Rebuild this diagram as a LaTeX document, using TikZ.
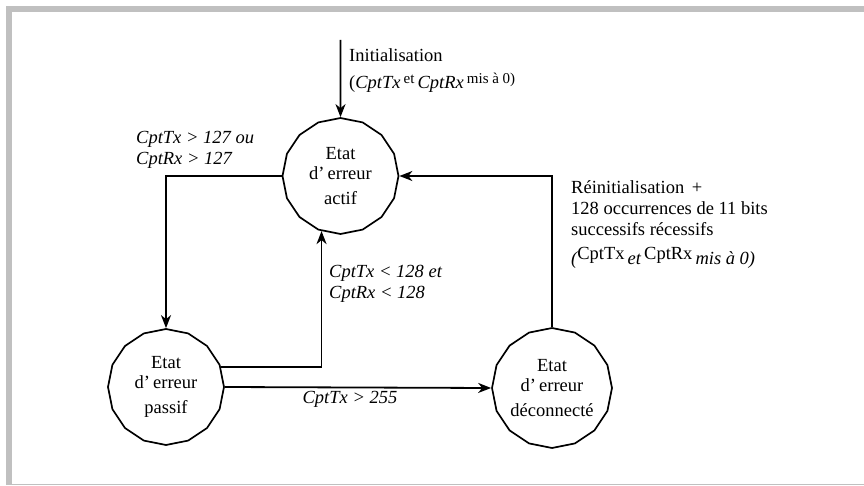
\documentclass[tikz,border=0pt]{standalone}
\usepackage{fontspec}
\setmainfont{Liberation Serif}
\usetikzlibrary{shapes.geometric,arrows.meta}
\definecolor{framegray}{RGB}{192,192,192}
\tikzset{
  state/.style={draw, line width=1.7pt, regular polygon, regular polygon sides=16,
    shape border rotate=11.25, minimum size=116pt, inner sep=0pt, align=center,
    font=\fontsize{18.5}{20}\selectfont},
  trans/.style={-{Stealth[length=13pt,width=10pt,inset=4pt]}, line width=1.8pt},
  lbl/.style={align=left, anchor=west, inner sep=0pt, font=\fontsize{18.5}{21}\selectfont},
  itlbl/.style={lbl, font=\fontsize{18.5}{21}\selectfont\itshape},
}
\newcommand{\smallup}[1]{\raisebox{5pt}{\fontsize{15}{16}\selectfont #1}}
\newcommand{\itdown}[1]{\raisebox{-5pt}{\itshape #1}}
\begin{document}
\begin{tikzpicture}[x=1pt,y=-1pt]
  \useasboundingbox (0,0) rectangle (864,486);
  % Frame
  \fill[framegray] (6,6) rectangle (864,12);
  \fill[framegray] (6,6) rectangle (12,485);
  \fill[framegray] (6,483.5) rectangle (864,485);

  % States
  \node[state] (actif) at (340.5,176) {Etat\\d’\,erreur\\[5pt]actif};
  \node[state] (passif) at (166,387) {Etat\\d’\,erreur\\[5pt]passif};
  \node[state] (deco) at (552,388) {Etat\\d’\,erreur\\[5pt]déconnecté};

  % Transitions
  \coordinate (init) at (340.5,40);
  \draw[trans] (init) -- (actif.north);
  \draw[trans] (actif.west) -| (passif.north);
  \draw[trans] (passif.20) -| (actif.251);
  \draw[trans] (passif.east) -- (deco.west);
  \draw[trans] (deco.north) |- (actif.east);

  % Labels
  \node[lbl] (initlbl) at (349,71) {Initialisation\\[6pt](\textit{CptTx}\,\smallup{et}\,\textit{CptRx}\,\smallup{mis à 0)}};
  \node[itlbl] (cond1) at (136,150) {CptTx > 127 ou\\CptRx > 127};
  \node[itlbl] (cond2) at (329,284) {CptTx < 128 et\\CptRx < 128};
  \node[itlbl, anchor=center] (cond3) at (350,399) {CptTx > 255};
  \node[lbl] (cond4) at (571,225) {Réinitialisation \,+\\128 occurrences de 11 bits\\successifs récessifs\\[3pt]\itdown{(}CptTx\,\itdown{et}\,CptRx\,\itdown{mis à 0)}};
\end{tikzpicture}
\end{document}
